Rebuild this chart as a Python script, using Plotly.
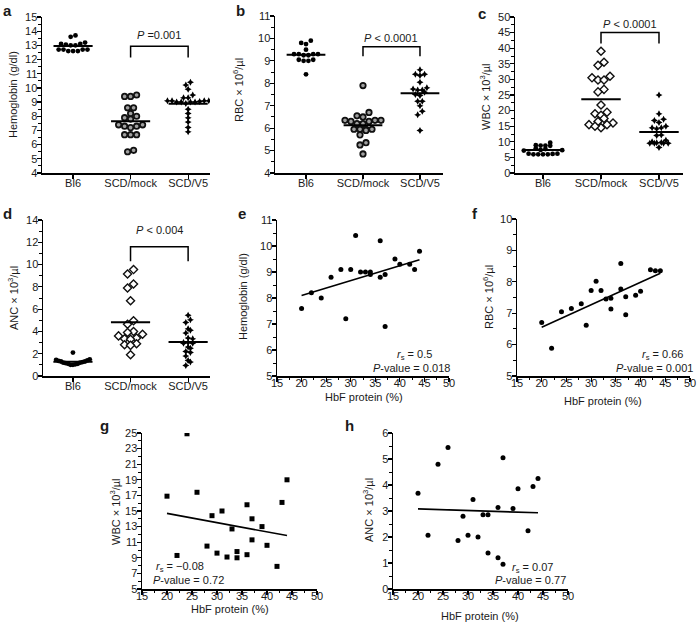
import plotly.graph_objects as go
import numpy as np

W, H = 700, 625
FONT = "Liberation Sans, Arial, sans-serif"
TXT = "#1a1a1a"

# ---------------- data ----------------
groups = ["Bl6", "SCD/mock", "SCD/V5"]

hb_bl6 = [13.7, 13.6, 13.2, 13.1, 13.0, 13.0, 13.1, 13.05, 12.7, 12.6, 12.7, 12.6, 12.7, 12.7, 12.6]
hb_mock = [9.5, 9.4, 9.4, 8.6, 8.6, 8.2, 8.0, 7.9, 7.8, 7.4, 7.3, 7.3, 7.4, 7.2, 6.7, 6.7, 6.7, 5.6, 5.5]
hb_v5 = [10.4, 10.2, 9.9, 9.5, 9.3, 9.3, 9.1, 9.1, 9.1, 9.05, 9.0, 9.0, 9.0, 9.0, 9.1, 8.9, 8.5, 8.2, 7.9, 7.6, 7.2, 6.9]

rbc_bl6 = [9.9, 9.8, 9.75, 9.5, 9.3, 9.3, 9.25, 9.25, 9.3, 9.3, 9.05, 9.0, 9.0, 9.05, 8.4]
rbc_mock = [7.9, 6.7, 6.55, 6.5, 6.35, 6.35, 6.3, 6.3, 6.35, 6.2, 6.2, 5.95, 5.95, 5.9, 5.95, 5.95, 5.7, 5.35, 5.25, 4.85]
rbc_v5 = [8.6, 8.4, 8.4, 8.35, 8.05, 7.8, 7.75, 7.7, 7.7, 7.6, 7.5, 7.45, 7.2, 7.2, 7.0, 6.75, 6.6, 5.9]

wbc_bl6 = [9.7, 8.8, 8.7, 8.9, 8.8, 7.9, 7.7, 7.3, 7.2, 7.4, 6.2, 6.0, 6.0, 6.0, 6.1, 6.0, 6.2]
wbc_mock = [39.0, 35.5, 34.5, 31.0, 30.5, 29.8, 29.8, 26.8, 26.0, 21.8, 19.5, 19.0, 18.5, 17.5, 16.5, 16.0, 15.5, 15.5, 14.5, 15.0]
wbc_v5 = [25.0, 19.0, 17.2, 16.8, 16.2, 15.0, 14.5, 14.5, 14.2, 12.2, 12.0, 10.5, 10.0, 9.8, 9.7, 9.5, 9.5, 9.5, 9.5, 8.2]

anc_bl6 = [2.1, 1.5, 1.45, 1.4, 1.35, 1.3, 1.3, 1.25, 1.2, 1.2, 1.15, 1.1, 1.1, 1.05, 1.0, 1.0]
anc_mock = [9.55, 9.15, 8.25, 7.9, 6.75, 4.95, 4.65, 4.0, 3.9, 3.75, 3.6, 3.4, 3.35, 3.3, 2.9, 2.8, 2.75, 1.9]
anc_v5 = [5.45, 5.05, 4.8, 4.25, 4.1, 3.85, 3.4, 3.35, 3.0, 3.0, 2.95, 2.95, 2.6, 2.5, 2.2, 2.1, 1.8, 1.4, 1.25, 0.95]

# bracket [low, top] and p-value label height
bracket_a = [12.15, 12.93]; ptext_a = 13.7
bracket_b = [9.21, 9.63];  ptext_b = 10.0
bracket_c = [41.5, 45.0];  ptext_c = 47.6
bracket_d = [10.3, 11.6];  ptext_d = 13.1

hbf = [20, 22, 24, 26, 28, 29, 30, 31, 32, 33, 34, 34, 36, 36, 37, 37, 39, 40, 42, 43, 44]
e_hb = [7.6, 8.2, 8.0, 8.8, 9.1, 7.2, 9.1, 10.4, 9.0, 9.0, 9.0, 8.9, 10.2, 8.8, 8.9, 6.9, 9.5, 9.3, 9.3, 9.1, 9.8]
f_rbc = [6.7, 5.88, 7.05, 7.15, 7.3, 6.62, 7.72, 8.02, 7.72, 7.45, 7.48, 7.13, 8.58, 7.77, 7.52, 6.95, 7.57, 7.7, 8.38, 8.35, 8.35]
g_wbc = [16.9, 9.3, 24.9, 17.4, 10.5, 14.4, 9.6, 15.0, 9.1, 12.7, 9.8, 9.0, 15.8, 9.4, 14.0, 11.3, 13.0, 10.6, 7.9, 16.1, 19.0]
h_anc = [3.68, 2.07, 4.8, 5.44, 1.87, 2.8, 2.07, 3.44, 2.0, 2.86, 2.86, 1.38, 3.13, 1.2, 5.05, 0.95, 3.1, 3.86, 2.24, 3.94, 4.25]

fit_x = [20, 44]
fit_e = [8.1, 9.47]
fit_f = [6.55, 8.27]
fit_g = [14.7, 11.85]
fit_h = [3.08, 2.93]

# ---------------- helpers ----------------
fig = go.Figure()
annotations = []


def px_x(p):
    return p / W


def px_y(p):
    return 1 - p / H


def swarm_offsets(vals, px_per_y, px_per_x, spacing, thresh=None):
    if thresh is None:
        thresh = spacing * 0.9
    v = np.asarray(vals, float)
    order = np.argsort(v, kind="stable")
    rows, cur = [], [order[0]]
    for k in order[1:]:
        if (v[k] - v[cur[0]]) * px_per_y < thresh:
            cur.append(k)
        else:
            rows.append(cur)
            cur = [k]
    rows.append(cur)
    off = np.zeros(len(v))
    for r in rows:
        n = len(r)
        slots = [(j - (n - 1) / 2) * spacing for j in range(n)]
        slots = sorted(slots, key=lambda s: (abs(s), s))
        rs = sorted(r, key=lambda k: v[k])
        for k, s in zip(rs, slots):
            off[k] = s / px_per_x
    return off


def axis_style(**kw):
    d = dict(showline=True, linecolor="black", linewidth=1.5, ticks="outside",
             ticklen=4, tickwidth=1.2, tickcolor="black", showgrid=False,
             zeroline=False, automargin=False,
             tickfont=dict(family=FONT, size=11, color=TXT),
             fixedrange=True)
    d.update(kw)
    return d


def label(text, x, y, size=11, angle=0, bold=False, xanchor="center"):
    if bold:
        text = "<b>" + text + "</b>"
    annotations.append(dict(text=text, x=px_x(x), y=px_y(y), xref="paper", yref="paper",
                            showarrow=False, textangle=angle, xanchor=xanchor,
                            yanchor="middle",
                            font=dict(family=FONT, size=size, color=TXT)))


layout_axes = {}


def set_axes(i, box, xr, yr, xkw, ykw, xstand):
    x0, y0, x1, y1 = box
    xn = "xaxis" if i == 1 else f"xaxis{i}"
    yn = "yaxis" if i == 1 else f"yaxis{i}"
    xa = "x" if i == 1 else f"x{i}"
    ya = "y" if i == 1 else f"y{i}"
    layout_axes[xn] = axis_style(domain=[px_x(x0), px_x(x1)], range=xr, anchor=ya,
                                 ticklabelstandoff=xstand, **xkw)
    layout_axes[yn] = axis_style(domain=[px_y(y1), px_y(y0)], range=yr, anchor=xa,
                                 ticklabelstandoff=-3, **ykw)
    return xa, ya


def dot_panel(i, box, xr, yr, ydt, ymin, data, mock_style, bracket, ptext, ptxt):
    x0, y0, x1, y1 = box
    xa, ya = set_axes(i, box, xr, yr,
                      dict(tickvals=[0, 1, 2], ticktext=groups),
                      dict(dtick=ydt, tick0=yr[0],
                           minor=dict(dtick=ymin, ticks="outside", ticklen=2.5,
                                      tickcolor="black", tickwidth=1)), -5)
    ppx = (x1 - x0) / (xr[1] - xr[0])
    ppy = (y1 - y0) / (yr[1] - yr[0])
    styles = [
        dict(symbol="circle", size=4.8, color="black"),
        mock_style,
        dict(symbol="star-diamond", size=5, color="black"),
    ]
    spacings = [4.8, 6.0, 4.6]
    for gi, (vals, st) in enumerate(zip(data, styles)):
        sp = spacings[gi]
        th = None
        if gi == 0 and i == 4:
            sp, th = 2.4, 8
        off = swarm_offsets(vals, ppy, ppx, sp, th)
        mk = dict(symbol=st["symbol"], size=st["size"], color=st["color"],
                  line=dict(color="#111111", width=st.get("lw", 0)))
        fig.add_trace(go.Scatter(x=gi + off, y=vals, mode="markers", marker=mk,
                                 xaxis=xa, yaxis=ya, showlegend=False, hoverinfo="skip"))
        m = float(np.mean(vals))
        fig.add_trace(go.Scatter(x=[gi - 0.34, gi + 0.34], y=[m, m], mode="lines",
                                 line=dict(color="black", width=2),
                                 xaxis=xa, yaxis=ya, showlegend=False, hoverinfo="skip"))
    lo, top = bracket
    fig.add_trace(go.Scatter(x=[1, 1, 2, 2], y=[lo, top, top, lo], mode="lines",
                             line=dict(color="black", width=1.5),
                             xaxis=xa, yaxis=ya, showlegend=False, hoverinfo="skip"))
    annotations.append(dict(text=ptxt, x=1.5, y=ptext, xref=xa, yref=ya, showarrow=False,
                            font=dict(family=FONT, size=11, color=TXT)))


def corr_panel(i, box, yr, ydt, ymin, yvals, fity, symbol):
    xa, ya = set_axes(i, box, [15, 50], yr,
                      dict(dtick=5, tick0=15,
                           minor=dict(dtick=2.5, ticks="outside", ticklen=2.5,
                                      tickcolor="black", tickwidth=1)),
                      dict(dtick=ydt, tick0=yr[0],
                           minor=dict(dtick=ymin, ticks="outside", ticklen=2.5,
                                      tickcolor="black", tickwidth=1)), -8)
    fig.add_trace(go.Scatter(x=hbf, y=yvals, mode="markers",
                             marker=dict(symbol=symbol, size=5, color="black"),
                             xaxis=xa, yaxis=ya, showlegend=False, hoverinfo="skip"))
    fig.add_trace(go.Scatter(x=fit_x, y=fity, mode="lines",
                             line=dict(color="black", width=1.6),
                             xaxis=xa, yaxis=ya, showlegend=False, hoverinfo="skip"))


ring = dict(symbol="circle", size=5.4, color="#a0a0a0", lw=1.8)
diam = dict(symbol="diamond", size=6.2, color="white", lw=1.4)

dot_panel(1, (42, 17, 210, 173), [-0.54, 2.38], [4, 15], 1, 0.5,
          [hb_bl6, hb_mock, hb_v5], ring, bracket_a, ptext_a, "<i>P</i> =0.001")
dot_panel(2, (275, 16, 443, 173), [-0.544, 2.404], [4, 11], 1, 0.5,
          [rbc_bl6, rbc_mock, rbc_v5], ring, bracket_b, ptext_b, "<i>P</i> &lt; 0.0001")
dot_panel(3, (515, 17, 683, 173), [-0.483, 2.414], [0, 50], 5, 2.5,
          [wbc_bl6, wbc_mock, wbc_v5], diam, bracket_c, ptext_c, "<i>P</i> &lt; 0.0001")
dot_panel(4, (43, 220, 210, 376), [-0.52, 2.38], [0, 14], 2, 1,
          [anc_bl6, anc_mock, anc_v5], diam, bracket_d, ptext_d, "<i>P</i> &lt; 0.004")

corr_panel(5, (277, 220, 449, 376), [5, 11], 1, 0.5, e_hb, fit_e, "circle")
corr_panel(6, (517, 219, 690, 376), [5, 10], 1, 0.5, f_rbc, fit_f, "circle")
corr_panel(7, (142, 433, 317, 589), [5, 25], 2, 1, g_wbc, fit_g, "square")
corr_panel(8, (393, 433, 568, 589), [0, 6], 1, 0.5, h_anc, fit_h, "circle")

# y titles
label("Hemoglobin (g/dl)", 13, 95, angle=-90)
label("RBC × 10<sup>6</sup>/µl", 238, 90, angle=-90)
label("WBC × 10<sup>3</sup>/µl", 485, 97, angle=-90)
label("ANC × 10<sup>3</sup>/µl", 13, 298, angle=-90)
label("Hemoglobin (g/dl)", 243, 297, angle=-90)
label("RBC × 10<sup>6</sup>/µl", 488, 297, angle=-90)
label("WBC × 10<sup>3</sup>/µl", 115, 512, angle=-90)
label("ANC × 10<sup>3</sup>/µl", 368, 510, angle=-90)

# x titles
label("HbF protein (%)", 364, 397)
label("HbF protein (%)", 603, 401)
label("HbF protein (%)", 230, 609)
label("HbF protein (%)", 480, 616)

# stats text
label("<i>r</i><sub>s</sub> = 0.5", 414, 355)
label("<i>P</i>-value = 0.018", 412, 368)
label("<i>r</i><sub>s</sub> = 0.66", 662, 355)
label("<i>P</i>-value = 0.001", 654, 368)
label("<i>r</i><sub>s</sub> = −0.08", 180, 567)
label("<i>P</i>-value = 0.72", 188, 580)
label("<i>r</i><sub>s</sub> = 0.07", 532, 568)
label("<i>P</i>-value = 0.77", 530, 580)

# panel letters
for t, x, y in [("a", 7, 10), ("b", 240, 10), ("c", 482, 13), ("d", 7, 213),
                ("e", 242, 213), ("f", 475, 213), ("g", 104, 425), ("h", 349, 425)]:
    label(t, x, y, size=15, bold=True)

fig.update_layout(template="none", width=W, height=H, margin=dict(l=0, r=0, t=0, b=0, pad=0),
                  paper_bgcolor="white", plot_bgcolor="white",
                  annotations=annotations, **layout_axes)

fig.write_html("out.html", config={"displayModeBar": False, "staticPlot": True},
               post_script="document.body.style.margin='0';document.body.style.padding='0';"
                           "document.documentElement.style.overflow='hidden';")
